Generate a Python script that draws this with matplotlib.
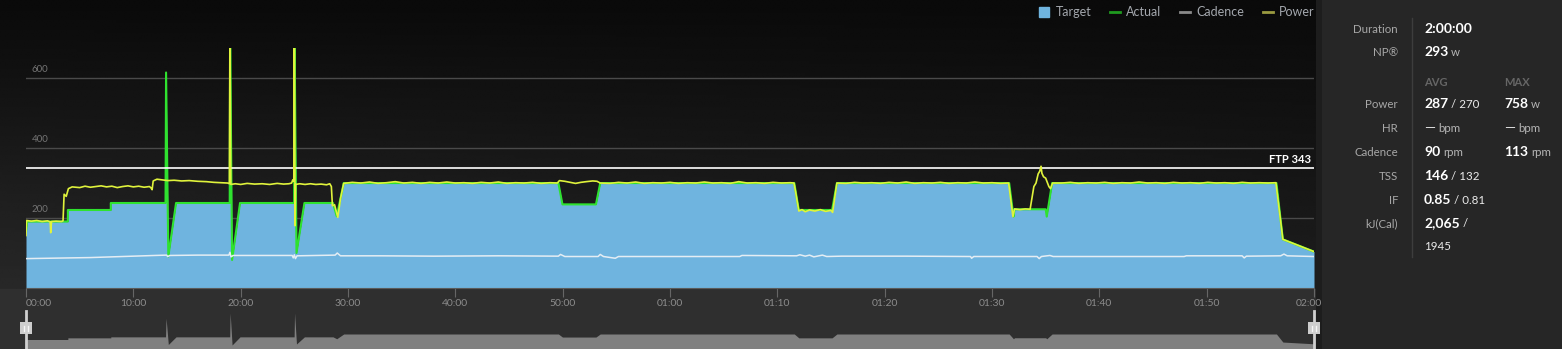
import numpy as np
import matplotlib
matplotlib.use('Agg')
import matplotlib.pyplot as plt
from matplotlib.lines import Line2D
from matplotlib.patches import Patch, Rectangle
from matplotlib.transforms import ScaledTranslation

plt.rcParams['font.family'] = ['Lato', 'DejaVu Sans']

# ---- workout data (time in minutes) ----
target_t = [0, 0.1, 3.9, 3.9, 7.9, 7.9, 13.0, 13.05, 13.26, 13.98, 18.98, 19.02, 19.2, 19.94,
            24.98, 25.02, 25.2, 25.94, 28.6, 28.95, 29.6, 49.6, 49.98, 53.1, 53.5, 71.58, 72.0,
            75.1, 75.55, 91.6, 92.0, 92.1, 95.0, 95.1, 95.6, 116.5, 117.1, 120]
target_w = [160, 190, 190, 223, 223, 243, 243, 616, 90, 243, 243, 720, 80, 243,
            243, 720, 100, 243, 243, 205, 300, 300, 239, 239, 300, 300, 223,
            223, 300, 300, 204, 225, 225, 204, 300, 300, 139, 104]

power_t = [0.0, 0.05, 0.5, 1.0, 1.5, 2.0, 2.25, 2.3, 2.38, 2.8, 3.3, 3.45, 3.55, 3.75, 3.95, 4.3,
           5.0, 5.5, 6.0, 6.5, 7.0, 7.5, 8.0, 8.5, 9.0, 9.5, 10.0, 10.5, 11.0, 11.5, 11.65, 11.75,
           11.85, 12.2, 12.7, 13.2, 13.8, 14.5, 15.2, 16.0, 16.8, 17.5, 18.2, 18.8, 18.95, 19.0,
           19.08, 19.5, 20.0, 20.6, 21.3, 22.0, 22.7, 23.4, 24.0, 24.5, 24.75, 24.85, 24.95, 25.0,
           25.07, 25.12, 25.5, 26.0, 26.5, 27.0, 27.5, 28.0, 28.3, 28.45, 28.55, 28.75, 29.05, 29.3,
           29.6, 30.4, 31.2, 32.0, 32.8, 33.6, 34.4, 35.2, 36.0, 36.8, 37.6, 38.4, 39.2, 40.0, 40.8,
           41.6, 42.4, 43.2, 44.0, 44.8, 45.6, 46.4, 47.2, 48.0, 48.8, 49.5,
           49.7, 50.2, 50.7, 51.2, 51.7, 52.2, 52.8, 53.2, 53.5,
           54.4, 55.2, 56.0, 56.8, 57.6, 58.4, 59.2, 60.0, 60.8, 61.6, 62.4, 63.2, 64.0, 64.8, 65.6,
           66.4, 67.2, 68.0, 68.8, 69.6, 70.4, 71.2, 71.55,
           71.7, 72.0, 72.3, 72.6, 73.0, 73.5, 74.0, 74.5, 75.0, 75.15, 75.55,
           76.4, 77.2, 78.0, 78.8, 79.6, 80.4, 81.2, 82.0, 82.8, 83.6, 84.4, 85.2, 86.0, 86.8, 87.6,
           88.4, 89.2, 90.0, 90.8, 91.55,
           91.95, 92.1, 92.6, 93.1, 93.55, 93.75, 93.9, 94.1, 94.3, 94.45, 94.57, 94.65, 94.8, 95.0,
           95.3, 95.45, 95.65,
           96.5, 97.3, 98.1, 98.9, 99.7, 100.5, 101.3, 102.1, 102.9, 103.7, 104.5, 105.3, 106.1,
           106.9, 107.7, 108.5, 109.3, 110.1, 110.9, 111.7, 112.5, 113.3, 114.1, 114.9, 115.7,
           116.45, 117.1, 120]
power_w = [150, 193, 191, 193, 190, 192, 189, 158, 190, 191, 190, 192, 268, 262, 284, 289,
           287, 291, 288, 290, 292, 289, 291, 287, 290, 292, 289, 291, 288, 290, 286, 281,
           306, 311, 309, 307, 308, 306, 307, 305, 304, 302, 301, 300, 298, 758,
           296, 298, 296, 299, 297, 298, 296, 299, 297, 298, 300, 309, 305, 758,
           178, 296, 298, 296, 298, 296, 297, 295, 298, 290, 235, 238, 202, 255,
           299, 302, 300, 303, 299, 301, 304, 300, 302, 299, 302, 300, 303, 300, 301,
           299, 302, 300, 303, 299, 301, 300, 302, 299, 301, 300,
           307, 305, 302, 299, 302, 304, 306, 305, 300,
           299, 302, 300, 303, 299, 301, 300, 302, 299, 301, 300, 303, 300, 301, 299,
           304, 300, 301, 299, 302, 300, 301, 300,
           275, 220, 224, 218, 223, 220, 224, 219, 222, 216, 300,
           299, 302, 300, 301, 299, 302, 300, 303, 299, 301, 300, 302, 299, 301, 300,
           303, 300, 301, 299, 300,
           204, 226, 224, 226, 225, 262, 290, 300, 326, 334, 348, 328, 318, 314,
           290, 284, 300,
           300, 302, 299, 301, 300, 302, 299, 301, 300, 303, 300, 301, 299,
           302, 300, 301, 299, 302, 300, 301, 299, 302, 300, 301, 300,
           301, 139, 104]

cad_t = [0, 2, 4, 6, 8, 10, 12, 13.1, 13.2, 13.4, 16, 18.9, 19.0, 19.1, 19.3, 22, 24.8, 24.9,
         25.0, 25.1, 25.25, 28.8, 29.0, 29.3, 33, 38, 44, 49.6, 49.8, 50.2, 53.3, 53.5, 53.8,
         54.9, 55.2, 60, 66.5, 66.7, 71.8, 72.1, 72.6, 73.0, 73.4, 74.2, 74.6, 76, 82, 88.0,
         88.1, 88.3, 94.2, 94.4, 94.6, 95.4, 95.7, 100, 107.9, 108.1, 113.3, 113.5, 113.7,
         116.9, 117.2, 117.5, 120]
cad_rpm = [84, 85, 86, 87, 89, 91, 93, 94, 90, 93, 94, 94, 102, 89, 93, 93, 93, 86,
           95, 84, 92, 94, 100, 92, 92, 91, 92, 91, 96, 90, 90, 96, 90,
           85, 90, 90, 90, 93, 92, 95, 91, 94, 89, 94, 90, 91, 91, 90,
           85, 90, 90, 84, 90, 93, 90, 90, 90, 92, 92, 86, 91,
           92, 97, 92, 90]

ftp = 343
x_ticks = [0, 10, 20, 30, 40, 50, 60, 70, 80, 90, 100, 110, 120]
x_labels = ['00:00', '10:00', '20:00', '30:00', '40:00', '50:00', '01:00',
            '01:10', '01:20', '01:30', '01:40', '01:50', '02:00']
y_ticks = [200, 400, 600]

legend_labels = ['Target', 'Actual', 'Cadence', 'Power']

stat_labels = ['Duration', 'NP®', 'Power', 'HR', 'Cadence', 'TSS', 'IF', 'kJ(Cal)']
stat_avg = [[('2:00:00', 'big')],
            [('293', 'big'), ('w', 'unit')],
            [('287', 'big'), ('/ 270', 'small')],
            [('—', 'dash'), ('bpm', 'unit')],
            [('90', 'big'), ('rpm', 'unit')],
            [('146', 'big'), ('/ 132', 'small')],
            [('0.85', 'big'), ('/ 0.81', 'small')],
            [('2,065', 'big'), ('/', 'small')]]
stat_max = [None, None,
            [('758', 'big'), ('w', 'unit')],
            [('—', 'dash'), ('bpm', 'unit')],
            [('113', 'big'), ('rpm', 'unit')],
            None, None, None]
kcal_extra = '1945'
row_base = [33, 56.5, 108, 132, 156, 179.5, 203.5, 227]

# ---- figure ----
W, H = 1562, 349
fig = plt.figure(figsize=(W / 100, H / 100), dpi=100, facecolor='#2f2f2f')


def box(x0, y0, x1, y1):
    return [x0 / W, 1 - y1 / H, (x1 - x0) / W, (y1 - y0) / H]


# background layer: gradient behind chart, stats panel on the right
bg = fig.add_axes([0, 0, 1, 1], zorder=0)
bg.set_xlim(0, W)
bg.set_ylim(H, 0)
bg.axis('off')
yy, xx = np.mgrid[0:1:120j, 0:1:300j]
grad = 10 + 30 * yy * (1 - 0.35 * xx)
bg.imshow(grad, cmap='gray', vmin=0, vmax=255, aspect='auto', interpolation='bilinear',
          extent=(0, 1316, 289, 0))
bg.add_patch(Rectangle((1316, 0), 6, H, color='#1d1d1d', lw=0))
bg.add_patch(Rectangle((1322, 0), W - 1322, H, color='#262626', lw=0))
bg.plot([1411.5, 1411.5], [18, 257], color='#3d3d3d', lw=1)

ax = fig.add_axes(box(26, 48, 1314, 288), zorder=2)
ax.set_facecolor('none')
ax.set_xlim(0, 120)
ax.set_ylim(0, 686)
ax.set_axisbelow(True)
ax.set_yticks(y_ticks)
ax.yaxis.grid(True, color='#4a4a4a', lw=1)
ax.tick_params(axis='y', length=0, labelleft=False)
for v in y_ticks:
    ax.annotate(str(v), (0, v), xytext=(4, 3), textcoords='offset points',
                color='#747474', fontsize=7, va='bottom', ha='left')

ax.fill_between(target_t, target_w, 0, color='#6fb4df', lw=0, zorder=2)
ax.plot(target_t, target_w, color='#2fe22f', lw=1.5, zorder=3)
ax.plot(cad_t, cad_rpm, color='#e4edf4', lw=1.1, zorder=4)
ax.axhline(ftp, color='white', lw=1.2, zorder=4)
ax.plot(power_t, power_w, color='#e0f33c', lw=1.2, zorder=5)
ax.annotate(f'FTP {ftp}', (120, ftp), xytext=(-2, 2), textcoords='offset points',
            ha='right', va='bottom', color='white', fontsize=8, fontweight='bold')

for s in ['top', 'left', 'right']:
    ax.spines[s].set_visible(False)
ax.spines['bottom'].set_color('#5a5a5a')
ax.set_xticks(x_ticks, x_labels)
ax.tick_params(axis='x', length=6.5, color='#666666', labelcolor='#8c8c8c',
               labelsize=7.5, pad=1.5)
tl = ax.get_xticklabels()
tl[0].set_ha('left')
tl[-1].set_transform(tl[-1].get_transform() + ScaledTranslation(-5 / 100, 0, fig.dpi_scale_trans))

# scrubber overview
sc = fig.add_axes(box(26, 299, 1314, 349), zorder=1)
sc.set_xlim(0, 120)
sc.set_ylim(0, 1000)
sc.fill_between(target_t, target_w, 0, color='#808080', lw=0)
sc.axis('off')

# overlay in pixel coordinates
ov = fig.add_axes([0, 0, 1, 1], zorder=5)
ov.set_xlim(0, W)
ov.set_ylim(H, 0)
ov.axis('off')

for hx in [26, 1314]:
    ov.plot([hx, hx], [311, 349], color='#cfcfcf', lw=2)
    ov.add_patch(Rectangle((hx - 6, 322), 12, 12, color='#cdcdcd', lw=0))
    ov.plot([hx - 1.8, hx - 1.8], [325.5, 330.5], color='#f5f5f5', lw=1)
    ov.plot([hx + 1.8, hx + 1.8], [325.5, 330.5], color='#f5f5f5', lw=1)

handles = [Patch(color='#6fb4df'),
           Line2D([], [], color='#1f9a1f', lw=2),
           Line2D([], [], color='#8a8a8a', lw=2),
           Line2D([], [], color='#9a9a40', lw=2)]
fig.legend(handles, legend_labels, loc='upper right', bbox_to_anchor=(1315 / W, 1 - 6.5 / H),
           ncol=4, frameon=False, fontsize=9, labelcolor='#a3a7ad', handlelength=0.8,
           handleheight=0.8, handletextpad=0.5, columnspacing=1.5, borderpad=0,
           borderaxespad=0)

styles = {'big': dict(fontsize=10, fontweight='bold', color='white'),
          'small': dict(fontsize=8.3, color='#ececec'),
          'unit': dict(fontsize=8.3, color='#b5b5b5'),
          'dash': dict(fontsize=10, color='#e0e0e0')}

renderer = fig.canvas.get_renderer()


def put_parts(x, y, parts):
    for txt, st in parts:
        t = ov.text(x, y, txt, va='baseline', ha='left', **styles[st])
        x = t.get_window_extent(renderer).x1 + 3


for lab, yb, avg, mx in zip(stat_labels, row_base, stat_avg, stat_max):
    ov.text(1398, yb, lab, ha='right', va='baseline', fontsize=8.3, color='#a8a8a8')
    put_parts(1424, yb, avg)
    if mx:
        put_parts(1504, yb, mx)

ov.text(1424, 86.5, 'AVG', fontsize=8, fontweight='bold', color='#666666', va='baseline')
ov.text(1504, 86.5, 'MAX', fontsize=8, fontweight='bold', color='#666666', va='baseline')
ov.text(1424, 250, kcal_extra, fontsize=8.3, color='#ececec', va='baseline')

fig.savefig('out.png', dpi=100, facecolor=fig.get_facecolor())
